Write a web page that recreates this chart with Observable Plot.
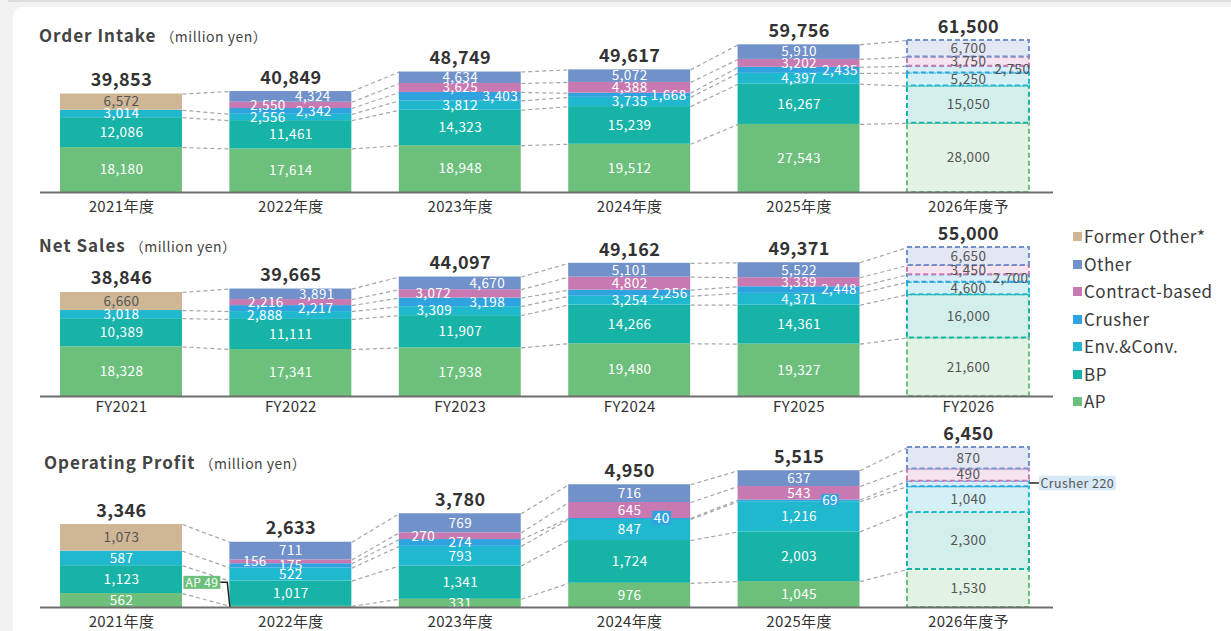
<!DOCTYPE html>
<html><head><meta charset="utf-8">
<script src="https://cdn.jsdelivr.net/npm/d3@7"></script>
<script src="https://cdn.jsdelivr.net/npm/@observablehq/plot@0.6"></script>
<style>
html,body{margin:0;padding:0}
body{width:1231px;height:631px;position:relative;overflow:hidden;background:#f2f2f2;font-family:"Noto Sans CJK JP","Noto Sans",sans-serif;color:#333}
#topline{position:absolute;left:8px;right:0;top:0;height:2px;background:#dedede}
#card{position:absolute;left:13px;top:7px;right:0;bottom:0;background:#fff;border-top-left-radius:9px}
.title{position:absolute;font-size:17px;font-weight:700;color:#444;line-height:22px;white-space:nowrap;letter-spacing:1px}
.title .unit{font-size:14px;font-weight:400;margin-left:4px;letter-spacing:0.5px}
.panel{position:absolute;left:0}
#legend{position:absolute;left:1073px;top:222px}
.li{height:27.5px;font-size:17px;color:#3a3a3a;display:flex;align-items:center;white-space:nowrap;letter-spacing:0.5px}
.sw{width:9px;height:9px;margin-right:2px;margin-top:2px;flex:none}
</style></head><body>
<div id="topline"></div><div id="card"></div>
<div class="title" style="left:39px;top:24px">Order Intake<span class="unit">（million yen）</span></div>
<div class="title" style="left:39px;top:234px">Net Sales<span class="unit">（million yen）</span></div>
<div class="title" style="left:44px;top:451px">Operating Profit<span class="unit">（million yen）</span></div>
<div id="legend"></div>
<script>
// ---------- categories ----------
const CAT_JA = ["2021年度","2022年度","2023年度","2024年度","2025年度","2026年度予"];
const CAT_FY = ["FY2021","FY2022","FY2023","FY2024","FY2025","FY2026"];
const SERIES = ["AP","BP","Env.&Conv.","Crusher","Contract-based","Other","Former Other*"];
const LEGEND_ORDER = ["Former Other*","Other","Contract-based","Crusher","Env.&Conv.","BP","AP"];
const FORECAST = 5;

// ---------- Order Intake (million yen) ----------
const oiAP       = [18180,17614,18948,19512,27543,28000];
const oiBP       = [12086,11461,14323,15239,16267,15050];
const oiEnv      = [3014,2556,3812,3735,4397,5250];
const oiCrusher  = [0,2342,3403,1668,2435,2750];
const oiContract = [0,2550,3625,4388,3202,3750];
const oiOther    = [0,4324,4634,5072,5910,6700];
const oiFormer   = [6572,0,0,0,0,0];
const oiTotal    = [39853,40849,48749,49617,59756,61500];

// ---------- Net Sales (million yen) ----------
const nsAP       = [18328,17341,17938,19480,19327,21600];
const nsBP       = [10389,11111,11907,14266,14361,16000];
const nsEnv      = [3018,2888,3309,3254,4371,4600];
const nsCrusher  = [0,2217,3198,2256,2448,2700];
const nsContract = [0,2216,3072,4802,3339,3450];
const nsOther    = [0,3891,4670,5101,5522,6650];
const nsFormer   = [6660,0,0,0,0,0];
const nsTotal    = [38846,39665,44097,49162,49371,55000];

// ---------- Operating Profit (million yen) ----------
const opAP       = [562,49,331,976,1045,1530];
const opBP       = [1123,1017,1341,1724,2003,2300];
const opEnv      = [587,522,793,847,1216,1040];
const opCrusher  = [0,175,274,40,69,220];
const opContract = [0,156,270,645,543,490];
const opOther    = [0,711,769,716,637,870];
const opFormer   = [1073,0,0,0,0,0];
const opTotal    = [3346,2633,3780,4950,5515,6450];

// ---------- styles ----------
const COLOR = {"AP":"#6dbf7c","BP":"#17b3a7","Env.&Conv.":"#20b8cf","Crusher":"#2fa3e0","Contract-based":"#c979b1","Other":"#7091c9","Former Other*":"#cfb795"};
const LIGHT = {"AP":"#e2f2e4","BP":"#d3efec","Env.&Conv.":"#d4f0f4","Crusher":"#d9edf8","Contract-based":"#f5e3ef","Other":"#e3e7f4","Former Other*":"#f3ede4"};
const FONT = '"Noto Sans CJK JP","Noto Sans",sans-serif';
const W = 1231;
const HALF = 0.36;              // half bar width, in category steps
const X_DOMAIN = [-0.478, 5.502];
const fmt = d3.format(",");

// label horizontal shifts (px) for thin segments, key = "index|series"
const oiShift = {"1|Other":22,"1|Contract-based":-23,"1|Crusher":23,"1|Env.&Conv.":-23,"2|Crusher":40,"3|Crusher":39,"4|Crusher":41,"5|Crusher":44};
const nsShift = {"1|Other":26,"1|Contract-based":-25,"1|Crusher":25,"1|Env.&Conv.":-26,"2|Other":27,"2|Contract-based":-27,"2|Crusher":27,"2|Env.&Conv.":-26,"3|Crusher":40,"4|Crusher":40,"5|Crusher":42};
const opShift = {"1|Contract-based":-36,"2|Contract-based":-37};
const opCallouts = [
  {key:"1|AP", prefix:"AP ", at:"corner", dx:-28, dy:-24, box:COLOR["AP"], color:"#fff", fontSize:12, h:13, padX:2, leader:"elbow"},
  {key:"3|Crusher", prefix:"", at:"mid", dx:32, dy:0, box:COLOR["Crusher"], color:"#fff", fontSize:13.5, h:14, padX:1.5},
  {key:"4|Crusher", prefix:"", at:"mid", dx:31, dy:0, box:COLOR["Crusher"], color:"#fff", fontSize:13.5, h:11.5, padX:1},
  {key:"5|Crusher", prefix:"Crusher ", at:"right", dx:11, dy:0, anchor:"start", box:"#d5e9f6", color:"#555", fontSize:12.5, h:14.5, padX:1.5, leader:"left"}
];

function buildSegments(cols) {
  const segs = [];
  for (let i = 0; i < 6; i++) {
    let acc = 0;
    for (const [s, vals] of cols) {
      const v = vals[i];
      if (!v) continue;
      segs.push({i, series: s, value: v, y1: acc, y2: acc + v, mid: acc + v / 2});
      acc += v;
    }
  }
  return segs;
}
function buildConnectors(segs) {
  const out = [];
  for (let i = 0; i < 5; i++) {
    const a = segs.filter(d => d.i === i), b = segs.filter(d => d.i === i + 1);
    for (const s of ["AP","BP","Env.&Conv.","Crusher","Contract-based"]) {
      const sa = a.find(d => d.series === s), sb = b.find(d => d.series === s);
      if (sa && sb) out.push({x1: i + HALF, y1: sa.y2, x2: i + 1 - HALF, y2: sb.y2});
    }
    out.push({x1: i + HALF, y1: d3.max(a, d => d.y2), x2: i + 1 - HALF, y2: d3.max(b, d => d.y2)});
  }
  return out;
}

function panel({cats, cols, totals, top, height, baseline, topPx, tickDy, shift, callouts = []}) {
  const segs = buildSegments(cols);
  const calloutKeys = new Set(callouts.map(c => c.key));
  const actual = segs.filter(d => d.i !== FORECAST);
  const forecast = segs.filter(d => d.i === FORECAST);
  const labels = segs.filter(d => !calloutKeys.has(d.i + "|" + d.series)).map(d => ({
    ...d, text: fmt(d.value), dx: shift[d.i + "|" + d.series] || 0,
    fill: (d.i === FORECAST || d.series === "Former Other*") ? "#555" : "#fff"
  }));
  const marks = [
    Plot.link(buildConnectors(segs), {x1:"x1", y1:"y1", x2:"x2", y2:"y2", stroke:"#a5a5a5", strokeWidth:1.2, strokeDasharray:"4,3"}),
    Plot.rect(actual, {x1: d => d.i - HALF, x2: d => d.i + HALF, y1:"y1", y2:"y2", fill: d => COLOR[d.series]}),
    Plot.rect(forecast, {x1: d => d.i - HALF, x2: d => d.i + HALF, y1:"y1", y2:"y2", fill: d => LIGHT[d.series], stroke: d => COLOR[d.series], strokeWidth:2, strokeDasharray:"5,3"})
  ];
  for (const [dx, arr] of d3.groups(labels, d => d.dx)) {
    marks.push(Plot.text(arr, {x:"i", y:"mid", text:"text", fill:"fill", dx, fontSize:13.5, fontFamily:FONT}));
  }
  const specs = [];
  for (const c of callouts) {
    const d = segs.find(s => s.i + "|" + s.series === c.key);
    const xv = c.at === "corner" ? d.i - HALF : c.at === "right" ? d.i + HALF : d.i;
    const yv = c.at === "corner" ? d.y1 : d.mid;
    const label = c.prefix + fmt(d.value);
    marks.push(Plot.text([d], {x: () => xv, y: () => yv, text: () => label, fill: c.color,
      textAnchor: c.anchor || "middle", fontSize: c.fontSize, fontFamily: FONT}));
    specs.push({...c, label});
  }
  marks.push(Plot.text(totals.map((t, i) => ({i, t})), {x:"i", y:"t", text: d => fmt(d.t), dy:-13.5, fontSize:18, fontWeight:"bold", fill:"#333", fontFamily:FONT}));
  marks.push(Plot.text(cats.map((c, i) => ({i, c})), {x:"i", y: () => 0, text:"c", dy: tickDy, fontSize:15, fill:"#333", fontFamily:FONT}));
  marks.push(Plot.ruleY([0], {stroke:"#6e6e6e", strokeWidth:2}));

  const svg = Plot.plot({
    width: W, height, marginLeft: 40, marginRight: W - 1053, marginTop: 0, marginBottom: 0,
    x: {domain: X_DOMAIN, axis: null},
    y: {domain: [0, d3.max(totals)], range: [baseline - top, topPx - top], axis: null},
    color: {type: "identity"},
    style: {background: "transparent", fontFamily: FONT, overflow: "visible", letterSpacing: "0.4px"},
    marks
  });
  svg.classList.add("panel");
  svg.style.position = "absolute";
  svg.style.top = top + "px";
  svg.style.left = "0px";
  document.body.appendChild(svg);
  decorate(svg, specs);
}

// draw boxes / leader lines behind callout texts; offsets are applied relative to each text's anchor
function decorate(svg, specs) {
  const NS = "http://www.w3.org/2000/svg";
  const texts = Array.from(svg.querySelectorAll("text"));
  for (const s of specs) {
    const t = texts.find(e => e.textContent.trim() === s.label);
    if (!t) continue;
    const g = t.parentNode;
    const bb = t.getBBox();
    const tr = t.getAttribute("transform") || "";
    const shifted = `${tr} translate(${s.dx},${s.dy})`;
    t.setAttribute("transform", shifted);
    const cy = bb.y + bb.height / 2 + 0.5;
    const bx = bb.x - s.padX, bw = bb.width + 2 * s.padX;
    const r = document.createElementNS(NS, "rect");
    r.setAttribute("x", bx); r.setAttribute("y", cy - s.h / 2);
    r.setAttribute("width", bw); r.setAttribute("height", s.h);
    r.setAttribute("fill", s.box);
    r.setAttribute("transform", shifted);
    g.insertBefore(r, t);
    if (s.leader) {
      const p = document.createElementNS(NS, "path");
      const y = cy + s.dy;
      const d = s.leader === "elbow"
        ? `M${bx + bw + s.dx},${y}H${bx + bw + s.dx + 7}L0,0`
        : `M${bx + s.dx},${y}H0`;
      p.setAttribute("d", d);
      p.setAttribute("fill", "none");
      p.setAttribute("stroke", "#222");
      p.setAttribute("stroke-width", "1.5");
      if (tr) p.setAttribute("transform", tr);
      g.insertBefore(p, t);
    }
  }
}

panel({cats: CAT_JA, totals: oiTotal, top: 0, height: 220, baseline: 192, topPx: 40, tickDy: 14.5, shift: oiShift,
  cols: [["AP",oiAP],["BP",oiBP],["Env.&Conv.",oiEnv],["Crusher",oiCrusher],["Contract-based",oiContract],["Other",oiOther],["Former Other*",oiFormer]]});
panel({cats: CAT_FY, totals: nsTotal, top: 220, height: 200, baseline: 396, topPx: 247, tickDy: 11, shift: nsShift,
  cols: [["AP",nsAP],["BP",nsBP],["Env.&Conv.",nsEnv],["Crusher",nsCrusher],["Contract-based",nsContract],["Other",nsOther],["Former Other*",nsFormer]]});
panel({cats: CAT_JA, totals: opTotal, top: 420, height: 211, baseline: 607, topPx: 447, tickDy: 14.5, shift: opShift, callouts: opCallouts,
  cols: [["AP",opAP],["BP",opBP],["Env.&Conv.",opEnv],["Crusher",opCrusher],["Contract-based",opContract],["Other",opOther],["Former Other*",opFormer]]});

// legend
const legend = document.getElementById("legend");
for (const s of LEGEND_ORDER) {
  const row = document.createElement("div");
  row.className = "li";
  const sw = document.createElement("span");
  sw.className = "sw"; sw.style.background = COLOR[s];
  row.appendChild(sw);
  row.appendChild(document.createTextNode(s));
  legend.appendChild(row);
}
</script>
</body></html>
